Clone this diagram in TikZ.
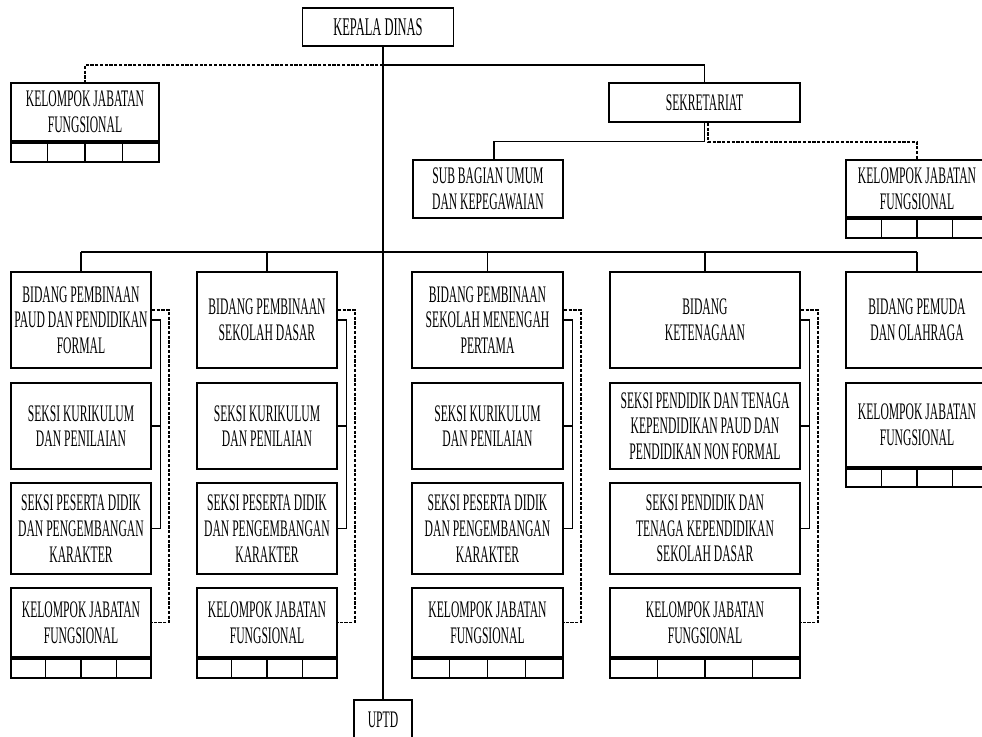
\documentclass[tikz,border=0pt]{standalone}
\usepackage{fontspec}
\newfontfamily\orgfont{Liberation Serif}[FakeStretch=0.49]
\usetikzlibrary{positioning}
\usetikzlibrary{calc}

\begin{document}
\begin{tikzpicture}[x=0.02cm, y=-0.02cm]
        % ================= styles =================
        \tikzset{
            % boxes of the chart
            unit/.style={draw=black, line width=1pt, fill=white, align=center, inner sep=1pt,
                font={\orgfont\fontsize{13.5}{14.6}\selectfont}},
            % strip of small cells under a KELOMPOK box
            cellrow/.style={draw=black, line width=1pt, inner sep=0pt, minimum height=0.38cm},
            % solid and dashed connectors
            link/.style={line width=0.6pt, black},
            bus/.style={line width=1pt, black},
            dlink/.style={line width=0.9pt, black, dash pattern=on 1.8pt off 0.9pt}
        }
        \clip (0,0) rectangle (982,736);

        % ================= top: kepala dinas, sekretariat =================
        \node[unit, minimum width=3.02cm, minimum height=0.76cm, font={\orgfont\fontsize{14.5}{15}\selectfont}] (kadis) at (378,27) {KEPALA DINAS};
        \node[unit, minimum width=2.96cm, minimum height=1.16cm] (kjf0) at (85,112) {KELOMPOK JABATAN\\FUNGSIONAL};
        \node[cellrow, minimum width=2.96cm, below=0pt of kjf0] (c0) {};
        \node[unit, minimum width=3.82cm, minimum height=0.78cm] (sekr) at (704.5,102.5) {SEKRETARIAT};
        \node[unit, minimum width=3.0cm, minimum height=1.16cm] (subbag) at (488,189) {SUB BAGIAN UMUM\\DAN KEPEGAWAIAN};
        \node[unit, minimum width=2.84cm, minimum height=1.14cm] (kjfS) at (917,188.5) {KELOMPOK JABATAN\\FUNGSIONAL};
        \node[cellrow, minimum width=2.84cm, below=0pt of kjfS] (cS) {};
        \node[unit, minimum width=1.16cm, minimum height=0.8cm] (uptd) at (383,720) {UPTD};

        % ================= columns of bidang =================
        % column 1
        \node[unit, minimum width=2.8cm, minimum height=1.92cm] (b1) at (81,320) {BIDANG PEMBINAAN\\PAUD DAN PENDIDIKAN\\FORMAL};
        \node[unit, minimum width=2.8cm, minimum height=1.72cm] (sa1) at (81,426) {SEKSI KURIKULUM\\DAN PENILAIAN};
        \node[unit, minimum width=2.8cm, minimum height=1.82cm] (sb1) at (81,528.5) {SEKSI PESERTA DIDIK\\DAN PENGEMBANGAN\\KARAKTER};
        \node[unit, minimum width=2.8cm, minimum height=1.38cm] (k1) at (81,622.5) {KELOMPOK JABATAN\\FUNGSIONAL};
        \node[cellrow, minimum width=2.8cm, below=0pt of k1] (c1) {};

        % column 2
        \node[unit, minimum width=2.8cm, minimum height=1.92cm] (b2) at (267,320) {BIDANG PEMBINAAN\\SEKOLAH DASAR};
        \node[unit, minimum width=2.8cm, minimum height=1.72cm] (sa2) at (267,426) {SEKSI KURIKULUM\\DAN PENILAIAN};
        \node[unit, minimum width=2.8cm, minimum height=1.82cm] (sb2) at (267,528.5) {SEKSI PESERTA DIDIK\\DAN PENGEMBANGAN\\KARAKTER};
        \node[unit, minimum width=2.8cm, minimum height=1.38cm] (k2) at (267,622.5) {KELOMPOK JABATAN\\FUNGSIONAL};
        \node[cellrow, minimum width=2.8cm, below=0pt of k2] (c2) {};

        % column 3
        \node[unit, minimum width=3.02cm, minimum height=1.92cm] (b3) at (487.5,320) {BIDANG PEMBINAAN\\SEKOLAH MENENGAH\\PERTAMA};
        \node[unit, minimum width=3.02cm, minimum height=1.72cm] (sa3) at (487.5,426) {SEKSI KURIKULUM\\DAN PENILAIAN};
        \node[unit, minimum width=3.02cm, minimum height=1.82cm] (sb3) at (487.5,528.5) {SEKSI PESERTA DIDIK\\DAN PENGEMBANGAN\\KARAKTER};
        \node[unit, minimum width=3.02cm, minimum height=1.38cm] (k3) at (487.5,622.5) {KELOMPOK JABATAN\\FUNGSIONAL};
        \node[cellrow, minimum width=3.02cm, below=0pt of k3] (c3) {};

        % column 4
        \node[unit, minimum width=3.8cm, minimum height=1.92cm] (b4) at (705,320) {BIDANG\\KETENAGAAN};
        \node[unit, minimum width=3.8cm, minimum height=1.72cm] (sa4) at (705,426) {SEKSI PENDIDIK DAN TENAGA\\KEPENDIDIKAN PAUD DAN\\PENDIDIKAN NON FORMAL};
        \node[unit, minimum width=3.8cm, minimum height=1.82cm] (sb4) at (705,528.5) {SEKSI PENDIDIK DAN\\TENAGA KEPENDIDIKAN\\SEKOLAH DASAR};
        \node[unit, minimum width=3.8cm, minimum height=1.38cm] (k4) at (705,622.5) {KELOMPOK JABATAN\\FUNGSIONAL};
        \node[cellrow, minimum width=3.8cm, below=0pt of k4] (c4) {};

        % column 5
        \node[unit, minimum width=2.84cm, minimum height=1.92cm] (b5) at (917,320) {BIDANG PEMUDA\\DAN OLAHRAGA};
        \node[unit, minimum width=2.84cm, minimum height=1.68cm] (k5) at (917,425) {KELOMPOK JABATAN\\FUNGSIONAL};
        \node[cellrow, minimum width=2.84cm, minimum height=0.36cm, below=0pt of k5] (c5) {};

        % cells under every KELOMPOK box
        \foreach \c in {c0,cS,c1,c2,c3,c4,c5}
            \foreach \i in {1,2,3}
                \draw[link] ($(\c.north west)!\i/4!(\c.north east)$) -- ($(\c.south west)!\i/4!(\c.south east)$);

        % ================= connectors =================
        \coordinate (hub) at (383,65);
        \coordinate (bus) at (383,252);
        \draw[link] (uptd.north |- kadis.south) -- (uptd.north);
        \draw[link] (hub) -| (sekr.north);
        \draw[dlink] (hub) -| (kjf0.north);
        \draw[link] (sekr.south) -- ++(0,19) -| ([xshift=0.12cm]subbag.north);
        \draw[dlink] ([xshift=0.07cm]sekr.south) -- ++(0,19) -| (kjfS.north);

        % horizontal bus to the bidang
        \draw[bus] (b1.north |- bus) -- (b5.north |- bus);
        \foreach \b in {b1,b2,b3,b4,b5}
            \draw[link] (\b.north |- bus) -- (\b.north);

        % side links inside each column
        \foreach \n in {1,2,3,4} {
            \draw[link] (b\n.east) -- ++(9,0) coordinate (t\n) |- (sb\n.east);
            \draw[link] (sa\n.east) -- (sa\n.east -| t\n);
            \draw[dlink] ([yshift=0.2cm]b\n.east) -- ++(17,0) |- (k\n.east);
        }
    \end{tikzpicture}
\end{document}
